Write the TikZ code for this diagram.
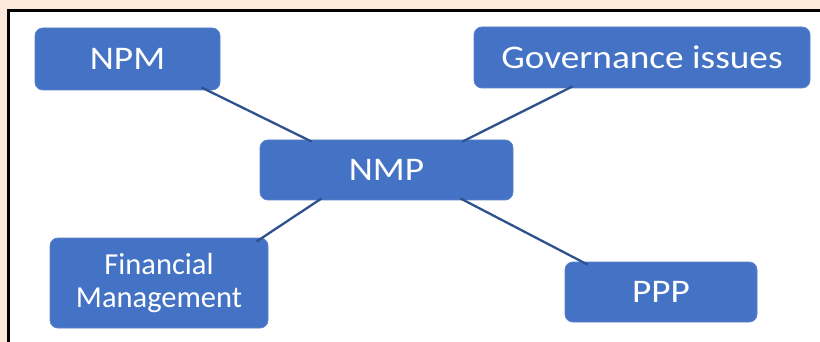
\documentclass[tikz,border=0pt]{standalone}
\usepackage{fontspec}
\setmainfont{Carlito}[FakeStretch=1.13]
\newfontfamily\plainfont{Carlito}
\definecolor{peach}{HTML}{FCE9DC}
\definecolor{boxblue}{HTML}{4472C4}
\definecolor{boxedge}{HTML}{5A82CA}
\definecolor{linkblue}{HTML}{2F528F}
\tikzset{
  topic/.style={draw=boxedge,line width=0.8pt,fill=boxblue,rounded corners=8pt,
    text=white,align=center,inner sep=0pt,font=\fontsize{33}{33}\selectfont},
  link/.style={draw=linkblue,line width=2.3pt}
}
\begin{document}
\begin{tikzpicture}[x=1pt,y=-1pt]
			%Nen
			\fill[peach] (0,0) rectangle (820,342);
			\useasboundingbox (0,0) rectangle (820,342);
			\draw[line width=3.5pt,fill=white] (8.5,10.5) rectangle (840,360);
			%Khung
			\node[topic,minimum width=185pt,minimum height=62pt] (npm) at (127.5,59) {NPM};
			\node[topic,minimum width=336pt,minimum height=61pt] (gov) at (642,57.5) {Governance issues};
			\node[topic,minimum width=253pt,minimum height=60pt] (nmp) at (386.5,170) {NMP};
			\node[topic,minimum width=218pt,minimum height=90pt,font=\plainfont\fontsize{30.5}{33}\selectfont] (fin) at (159,283) {Financial\\Management};
			\node[topic,minimum width=192pt,minimum height=60pt] (ppp) at (661,292) {PPP};
			%Duong noi
			\draw[link] ([xshift=-19pt,yshift=3pt]npm.south east) -- ([xshift=52pt,yshift=-2pt]nmp.north west);
			\draw[link] ([xshift=99pt,yshift=2pt]gov.south west) -- ([xshift=-51pt,yshift=-2pt]nmp.north east);
			\draw[link] ([xshift=62pt,yshift=2pt]nmp.south west) -- ([xshift=-12pt,yshift=-4pt]fin.north east);
			\draw[link] ([xshift=-53pt,yshift=2pt]nmp.south east) -- ([xshift=23pt,yshift=-3pt]ppp.north west);
\end{tikzpicture}
\end{document}
